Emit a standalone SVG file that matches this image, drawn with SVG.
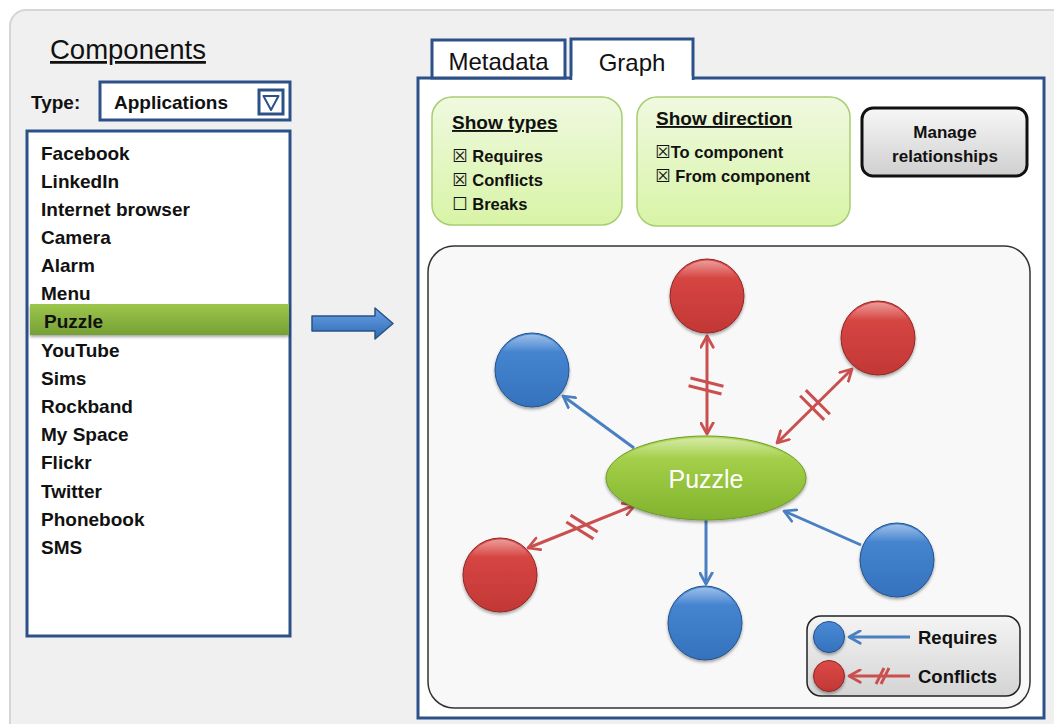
<svg xmlns="http://www.w3.org/2000/svg" width="1054" height="724" viewBox="0 0 1054 724">
  <defs>
    <style>
      .ui { font-family: "Liberation Sans", Arial, sans-serif; fill: #111; }
      .b { font-weight: bold; }
      .item { font-family: "Liberation Sans", Arial, sans-serif; font-weight: bold; font-size: 19px; fill: #111; }
      .chk { font-family: "Liberation Sans", Arial, sans-serif; font-weight: bold; font-size: 16.5px; fill: #111; }
      .box { font-family: "DejaVu Sans", sans-serif; font-weight: bold; font-size: 17.5px; }
      .frame { fill: #fff; stroke: #2c5189; stroke-width: 3; }
      .req { stroke: #4a7fc1; stroke-width: 3; fill: none; }
      .con { stroke: #c9504f; stroke-width: 3; fill: none; }
      .hash { stroke: #c9504f; stroke-width: 3; }
    </style>
    <linearGradient id="greenPanel" x1="0" y1="0" x2="0" y2="1">
      <stop offset="0" stop-color="#eff9e0"/>
      <stop offset="1" stop-color="#d8f4a6"/>
    </linearGradient>
    <linearGradient id="grayBtn" x1="0" y1="0" x2="0" y2="1">
      <stop offset="0" stop-color="#f7f7f7"/>
      <stop offset="1" stop-color="#cfcfcf"/>
    </linearGradient>
    <linearGradient id="legendFill" x1="0" y1="0" x2="0" y2="1">
      <stop offset="0" stop-color="#f4f4f4"/>
      <stop offset="1" stop-color="#d4d4d4"/>
    </linearGradient>
    <linearGradient id="selBar" x1="0" y1="0" x2="0" y2="1">
      <stop offset="0" stop-color="#9dc64c"/>
      <stop offset="1" stop-color="#76a035"/>
    </linearGradient>
    <linearGradient id="bigArrow" x1="0" y1="0" x2="0" y2="1">
      <stop offset="0" stop-color="#6aa3e6"/>
      <stop offset="1" stop-color="#2e69b4"/>
    </linearGradient>
    <linearGradient id="ellipseFill" x1="0" y1="0" x2="0" y2="1">
      <stop offset="0" stop-color="#b2d95a"/>
      <stop offset="0.5" stop-color="#98c63f"/>
      <stop offset="1" stop-color="#82b22e"/>
    </linearGradient>
    <linearGradient id="blueBall" x1="0" y1="0" x2="0" y2="1">
      <stop offset="0" stop-color="#4a8ad6"/>
      <stop offset="1" stop-color="#3572bd"/>
    </linearGradient>
    <linearGradient id="redBall" x1="0" y1="0" x2="0" y2="1">
      <stop offset="0" stop-color="#dc4a47"/>
      <stop offset="1" stop-color="#c23735"/>
    </linearGradient>
    <linearGradient id="rim" x1="0" y1="0" x2="0" y2="1">
      <stop offset="0" stop-color="#fff" stop-opacity="0.45"/>
      <stop offset="0.25" stop-color="#fff" stop-opacity="0"/>
      <stop offset="1" stop-color="#000" stop-opacity="0"/>
    </linearGradient>
    <filter id="shadow" x="-20%" y="-20%" width="140%" height="150%">
      <feDropShadow dx="0" dy="2" stdDeviation="1.6" flood-color="#000" flood-opacity="0.35"/>
    </filter>
    <marker id="arrBlue" viewBox="0 0 12 12" refX="10" refY="6" markerWidth="5" markerHeight="5" markerUnits="strokeWidth" orient="auto-start-reverse">
      <path d="M1,1 L10,6 L1,11" fill="none" stroke="#4a7fc1" stroke-width="2.2" stroke-linecap="round" stroke-linejoin="round"/>
    </marker>
    <marker id="arrRed" viewBox="0 0 12 12" refX="10" refY="6" markerWidth="5" markerHeight="5" markerUnits="strokeWidth" orient="auto-start-reverse">
      <path d="M1,1 L10,6 L1,11" fill="none" stroke="#c9504f" stroke-width="2.2" stroke-linecap="round" stroke-linejoin="round"/>
    </marker>
  </defs>

  <!-- window background -->
  <rect x="0" y="0" width="1054" height="724" fill="#ffffff"/>
  <rect x="10" y="10" width="1070" height="740" rx="16" fill="#f0f0f0" stroke="#d6d6d6" stroke-width="2"/>

  <!-- left column: component picker -->
  <g id="components-title">
    <text class="ui" x="50" y="59" font-size="27.5" text-decoration="underline">Components</text>
  </g>
  <g id="type-selector">
    <text class="ui b" x="31" y="109" font-size="19">Type:</text>
    <rect class="frame" x="100" y="82" width="190" height="38"/>
    <text class="ui b" x="114" y="109" font-size="19">Applications</text>
    <rect x="259" y="90" width="24" height="24" fill="#fff" stroke="#2c5189" stroke-width="3"/>
    <path d="M263.5,96 L278.5,96 L271,110 Z" fill="none" stroke="#2c5189" stroke-width="2" stroke-linejoin="round"/>
  </g>
  <g id="component-list">
    <rect class="frame" x="27" y="131" width="263" height="505"/>
    <rect x="30" y="304" width="259" height="31" fill="url(#selBar)" filter="url(#shadow)"/>
    <text class="item" x="41" y="160">Facebook</text>
    <text class="item" x="41" y="188">LinkedIn</text>
    <text class="item" x="41" y="216">Internet browser</text>
    <text class="item" x="41" y="244">Camera</text>
    <text class="item" x="41" y="272">Alarm</text>
    <text class="item" x="41" y="300">Menu</text>
    <text class="item" x="44" y="328">Puzzle</text>
    <text class="item" x="41" y="357">YouTube</text>
    <text class="item" x="41" y="385">Sims</text>
    <text class="item" x="41" y="413">Rockband</text>
    <text class="item" x="41" y="441">My Space</text>
    <text class="item" x="41" y="469">Flickr</text>
    <text class="item" x="41" y="498">Twitter</text>
    <text class="item" x="41" y="526">Phonebook</text>
    <text class="item" x="41" y="554">SMS</text>
  </g>

  <!-- pointer from list to detail view -->
  <g id="select-arrow">
    <path d="M312,316 L375,316 L375,308 L393,323.5 L375,339 L375,331 L312,331 Z" fill="url(#bigArrow)" stroke="#2b5283" stroke-width="1.5" stroke-linejoin="round"/>
  </g>

  <!-- right column: tabbed detail view -->
  <g id="tab-panel">
    <rect class="frame" x="418" y="78" width="626" height="640"/>
    <rect class="frame" x="432" y="40" width="133" height="38"/>
    <text class="ui" x="498.5" y="70" font-size="24" text-anchor="middle">Metadata</text>
    <path d="M571,80 L571,39 L693,39 L693,80" fill="#fff" stroke="#2c5189" stroke-width="3"/>
    <rect x="572.5" y="76" width="119" height="6" fill="#fff"/>
    <text class="ui" x="632" y="71" font-size="24" text-anchor="middle">Graph</text>
  </g>

  <g id="show-types">
    <rect x="432" y="97" width="190" height="128" rx="20" fill="url(#greenPanel)" stroke="#a9cd72" stroke-width="1.5"/>
    <text class="ui b" x="452" y="129" font-size="19" text-decoration="underline">Show types</text>
    <text class="chk" x="452" y="162"><tspan class="box">☒</tspan> Requires</text>
    <text class="chk" x="452" y="186"><tspan class="box">☒</tspan> Conflicts</text>
    <text class="chk" x="452" y="210"><tspan class="box">☐</tspan> Breaks</text>
  </g>

  <g id="show-direction">
    <rect x="637" y="97" width="213" height="129" rx="20" fill="url(#greenPanel)" stroke="#a9cd72" stroke-width="1.5"/>
    <text class="ui b" x="656" y="125" font-size="19" text-decoration="underline">Show direction</text>
    <text class="chk" x="655" y="158"><tspan class="box">☒</tspan>To component</text>
    <text class="chk" x="655" y="182"><tspan class="box">☒</tspan> From component</text>
  </g>

  <g id="manage-button">
    <rect x="862" y="108" width="165" height="68" rx="11" fill="url(#grayBtn)" stroke="#111" stroke-width="3"/>
    <text class="ui b" x="945" y="138" font-size="17" text-anchor="middle">Manage</text>
    <text class="ui b" x="945" y="162" font-size="17" text-anchor="middle">relationships</text>
  </g>

  <g id="graph-canvas">
    <rect x="428" y="246" width="602" height="462" rx="26" fill="#f8f8f8" stroke="#333" stroke-width="1.5"/>
  </g>

  <!-- relationship edges -->
  <g id="connectors">
    <line class="req" x1="634" y1="448" x2="563" y2="396" marker-end="url(#arrBlue)"/>
    <line class="req" x1="706" y1="520" x2="706" y2="584" marker-end="url(#arrBlue)"/>
    <line class="req" x1="861" y1="545" x2="784" y2="511" marker-end="url(#arrBlue)"/>
    <line class="con" x1="707" y1="336" x2="707" y2="434" marker-start="url(#arrRed)" marker-end="url(#arrRed)"/>
    <line class="con" x1="852" y1="369" x2="777" y2="443" marker-start="url(#arrRed)" marker-end="url(#arrRed)"/>
    <line class="con" x1="528" y1="548" x2="635" y2="505" marker-start="url(#arrRed)" marker-end="url(#arrRed)"/>
    <!-- conflict tick marks -->
    <g transform="translate(706,386) rotate(14)">
      <line class="hash" x1="-17" y1="-4" x2="17" y2="-4"/>
      <line class="hash" x1="-17" y1="4" x2="17" y2="4"/>
    </g>
    <g transform="translate(815,405) rotate(-45)">
      <line class="hash" x1="-4" y1="-17" x2="-4" y2="17"/>
      <line class="hash" x1="4" y1="-17" x2="4" y2="17"/>
    </g>
    <g transform="translate(582,527) rotate(-58)">
      <line class="hash" x1="-4" y1="-16" x2="-4" y2="16"/>
      <line class="hash" x1="4" y1="-16" x2="4" y2="16"/>
    </g>
  </g>

  <g id="node-puzzle">
    <ellipse cx="706" cy="478" rx="100" ry="42" fill="url(#ellipseFill)" stroke="#6f9a2a" stroke-width="1" filter="url(#shadow)"/>
    <ellipse cx="706" cy="478" rx="98" ry="40" fill="url(#rim)"/>
    <text x="706" y="488" font-family="Liberation Sans, Arial, sans-serif" font-size="25" fill="#fff" text-anchor="middle">Puzzle</text>
  </g>

  <g id="node-red-top">
    <circle cx="707" cy="296" r="37" fill="url(#redBall)" stroke="#8e2826" stroke-width="1" filter="url(#shadow)"/>
    <circle cx="707" cy="296" r="35.5" fill="url(#rim)"/>
  </g>
  <g id="node-red-right">
    <circle cx="878" cy="338" r="37" fill="url(#redBall)" stroke="#8e2826" stroke-width="1" filter="url(#shadow)"/>
    <circle cx="878" cy="338" r="35.5" fill="url(#rim)"/>
  </g>
  <g id="node-red-left">
    <circle cx="500" cy="575" r="37" fill="url(#redBall)" stroke="#8e2826" stroke-width="1" filter="url(#shadow)"/>
    <circle cx="500" cy="575" r="35.5" fill="url(#rim)"/>
  </g>
  <g id="node-blue-left">
    <circle cx="532" cy="370" r="37" fill="url(#blueBall)" stroke="#24528c" stroke-width="1" filter="url(#shadow)"/>
    <circle cx="532" cy="370" r="35.5" fill="url(#rim)"/>
  </g>
  <g id="node-blue-right">
    <circle cx="897" cy="560" r="37" fill="url(#blueBall)" stroke="#24528c" stroke-width="1" filter="url(#shadow)"/>
    <circle cx="897" cy="560" r="35.5" fill="url(#rim)"/>
  </g>
  <g id="node-blue-bottom">
    <circle cx="705" cy="623" r="37" fill="url(#blueBall)" stroke="#24528c" stroke-width="1" filter="url(#shadow)"/>
    <circle cx="705" cy="623" r="35.5" fill="url(#rim)"/>
  </g>

  <g id="legend">
    <rect x="807" y="616" width="213" height="80" rx="14" fill="url(#legendFill)" stroke="#222" stroke-width="1.5"/>
    <line class="req" x1="910" y1="637" x2="849" y2="637" stroke-width="4" marker-end="url(#arrBlue)"/>
    <circle cx="829" cy="637" r="15.5" fill="url(#blueBall)" stroke="#24528c" stroke-width="1" filter="url(#shadow)"/>
    <line class="con" x1="910" y1="676" x2="849" y2="676" stroke-width="4" marker-end="url(#arrRed)"/>
    <line class="hash" x1="876" y1="684" x2="884" y2="668" stroke-width="2"/>
    <line class="hash" x1="881" y1="684" x2="889" y2="668" stroke-width="2"/>
    <circle cx="829" cy="676" r="15.5" fill="url(#redBall)" stroke="#8e2826" stroke-width="1" filter="url(#shadow)"/>
    <text class="ui b" x="918" y="644" font-size="18.5">Requires</text>
    <text class="ui b" x="918" y="683" font-size="18.5">Conflicts</text>
  </g>
</svg>
